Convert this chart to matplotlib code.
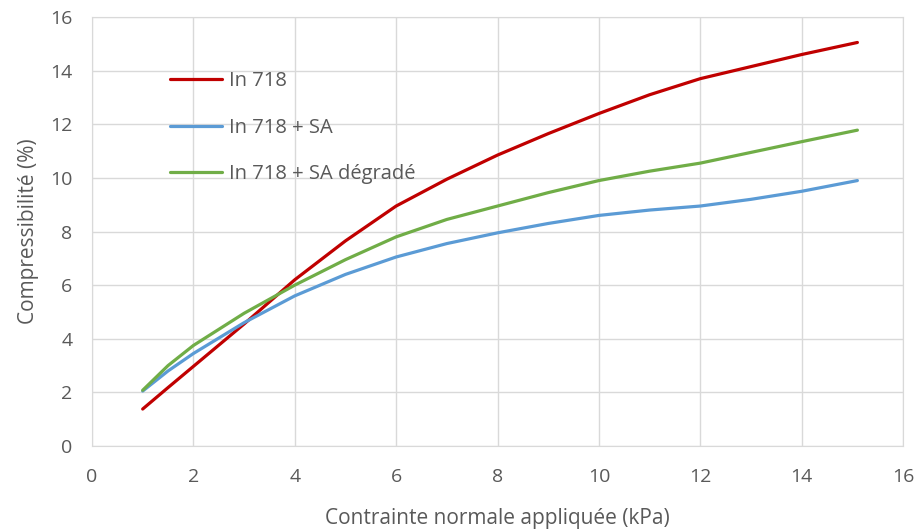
import numpy as np
import matplotlib.pyplot as plt

# values
x = [1, 1.5, 2, 3, 4, 5, 6, 7, 8, 9, 10, 11, 12, 13, 14, 15.1]
in718 = [1.38, 2.18, 2.97, 4.55, 6.2, 7.65, 8.95, 9.95, 10.85, 11.65, 12.4, 13.1, 13.7, 14.15, 14.6, 15.05]
in718_sa = [2.05, 2.8, 3.45, 4.6, 5.6, 6.4, 7.05, 7.55, 7.95, 8.3, 8.6, 8.8, 8.95, 9.2, 9.5, 9.9]
in718_sa_deg = [2.08, 3.0, 3.75, 4.95, 6.0, 6.95, 7.8, 8.45, 8.95, 9.45, 9.9, 10.25, 10.55, 10.95, 11.35, 11.78]

labels = ['In 718', 'In 718 + SA', 'In 718 + SA dégradé']
colors = ['#C00000', '#5B9BD5', '#70AD47']
txt = '#595959'
grid = '#D9D9D9'

plt.rcParams['font.family'] = ['Open Sans', 'DejaVu Sans']

fig = plt.figure(figsize=(9.19, 5.31), dpi=100)
ax = fig.add_axes([0.1001, 0.160, 0.8825, 0.808])

for ys, lab, c in zip([in718, in718_sa, in718_sa_deg], labels, colors):
    ax.plot(x, ys, color=c, lw=2.3, label=lab, solid_capstyle='round', solid_joinstyle='round')

ax.set_xlim(0, 16)
ax.set_ylim(0, 16)
ax.set_xticks(np.arange(0, 17, 2))
ax.set_yticks(np.arange(0, 17, 2))
ax.grid(True, color=grid, lw=1)
ax.set_axisbelow(True)
for s in ax.spines.values():
    s.set_color(grid)
ax.tick_params(length=0, labelsize=14, colors=txt)
ax.tick_params(axis='x', pad=16)
ax.tick_params(axis='y', pad=14)

ax.set_xlabel('Contrainte normale appliquée (kPa)', fontsize=15, color=txt, labelpad=16)
ax.set_ylabel('Compressibilité (%)', fontsize=15, color=txt, labelpad=8)

ax.legend(frameon=False, loc='upper left', bbox_to_anchor=(0.096, 0.873),
          borderaxespad=0, borderpad=0, handlelength=2.6, handletextpad=0.35,
          labelspacing=1.3, fontsize=14.5, labelcolor=txt)

plt.savefig('out.png', dpi=100)
